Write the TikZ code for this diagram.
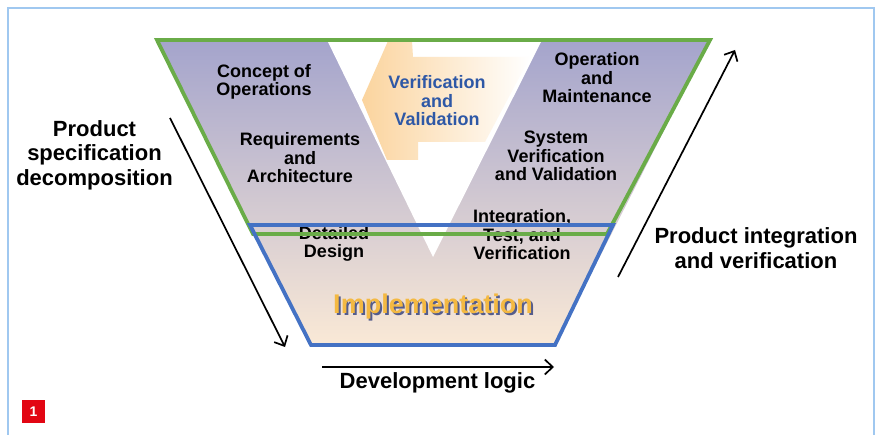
\documentclass[tikz,border=0pt]{standalone}
\usepackage{fontspec}
\setmainfont{Liberation Sans}
\usetikzlibrary{arrows.meta}
\definecolor{vgreen}{RGB}{106,172,72}
\definecolor{vblue}{RGB}{68,114,196}
\definecolor{lav}{RGB}{164,164,204}
\definecolor{peach}{RGB}{250,233,214}
\definecolor{vvorange}{RGB}{251,212,158}
\definecolor{vvtext}{RGB}{46,88,166}
\definecolor{gold}{RGB}{244,185,66}
\definecolor{goldshade}{RGB}{84,92,140}
\definecolor{framecol}{RGB}{160,200,240}
\definecolor{badgecol}{RGB}{226,6,19}
\begin{document}
\begin{tikzpicture}[x=1pt,y=-1pt,
  lbl/.style={font=\bfseries\fontsize{18}{18.5}\selectfont, align=center, inner sep=0pt},
  biglbl/.style={font=\bfseries\fontsize{22}{24.5}\selectfont, align=center, inner sep=0pt},
  flow/.style={line width=1.7pt, -{Straight Barb[length=8pt,width=15pt]}},
  outline/.style={line width=3.8pt, line join=miter},
]
\useasboundingbox (0,0) rectangle (880,435);
\draw[framecol, line width=1.5pt] (8,440) -- (8,8) -- (874,8) -- (874,440);

% body of the V
\shade[top color=lav, bottom color=peach] (157,40) -- (710,40) -- (555,345) -- (311,345) -- cycle;
\fill[white] (327,40) -- (542,40) -- (433,257) -- cycle;
\shade[left color=vvorange, right color=white]
  (362,100) -- (388,41) -- (412,41) -- (413,57) -- (530,57) -- (485,142)
  -- (418,142) -- (418,160) -- (387,160) -- cycle;

% labels
\node[lbl, text=vvtext] (vv) at (437,101) {Verification\\and\\Validation};
\node[lbl] (conops) at (264,82) {Concept of\\Operations};
\node[lbl] (req) at (300,158) {Requirements\\and\\Architecture};
\node[lbl] (opm) at (597,78) {Operation\\and\\Maintenance};
\node[lbl] (svv) at (556,156) {System\\Verification\\and Validation};
\node[lbl] (itv) at (522,235) {Integration,\\Test, and\\Verification};
\node[lbl] (dd) at (334,244) {Detailed\\Design};
\node[font=\bfseries\fontsize{27}{27}\selectfont, inner sep=0pt] (imp) at (433,308)
  {\makebox[0pt][l]{\hspace{2pt}\raisebox{-2pt}{\color{goldshade}Implementation}}\textcolor{gold}{Implementation}};

% outlines
\draw[vgreen, outline] (157,40) -- (710,40) -- (607,234) -- (253,234) -- cycle;
\draw[vblue, outline] (250,225) -- (613,225) -- (555,345) -- (311,345) -- cycle;

% side texts and arrows
\node[biglbl] (psd) at (94.5,155) {Product\\specification\\decomposition};
\node[biglbl] (piv) at (756,248) {Product integration\\and verification};
\node[biglbl] (dev) at (437.5,383) {Development logic};
\coordinate (la1) at (170,118);
\coordinate (la2) at (285,347);
\coordinate (ra1) at (618,277);
\coordinate (ra2) at (735,50);
\coordinate (ba1) at (322,367);
\coordinate (ba2) at (554,367);
\draw[flow] (la1) -- (la2);
\draw[flow] (ra1) -- (ra2);
\draw[flow] (ba1) -- (ba2);

% badge
\node[fill=badgecol, minimum size=23pt, inner sep=0pt, text=white,
  font=\bfseries\fontsize{14}{14}\selectfont] (badge) at (33.5,411.5) {1};
\end{tikzpicture}
\end{document}
